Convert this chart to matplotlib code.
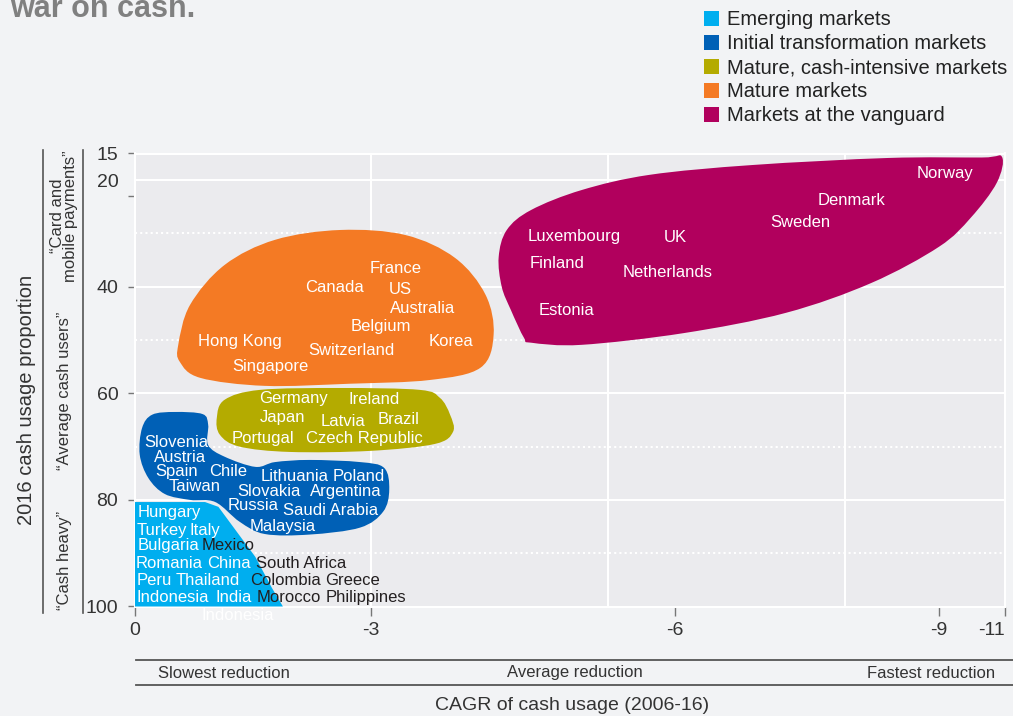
import numpy as np
import matplotlib
matplotlib.use("Agg")
import matplotlib.pyplot as plt
from matplotlib.path import Path
from matplotlib.patches import PathPatch, Rectangle
from matplotlib.lines import Line2D
from matplotlib.ticker import FixedLocator

plt.rcParams['font.family'] = ['Liberation Sans', 'DejaVu Sans']

# ---------------- data ----------------
categories = ["Emerging markets", "Initial transformation markets",
              "Mature, cash-intensive markets", "Mature markets",
              "Markets at the vanguard"]
colors = ["#00aeef", "#0060b6", "#b4ab00", "#f47a24", "#b1005d"]

x_ticks = [0, -3, -6, -9, -11]
x_tick_labels = ["0", "-3", "-6", "-9", "-11"]
y_ticks = [15, 20, 40, 60, 80, 100]
y_tick_labels = ["15", "20", "40", "60", "80", "100"]

# blob outlines (CAGR %, 2016 cash usage %)
emerging_x = [0, -0.89, -1.06, -1.23, -1.53, -1.74, -1.88, 0]
emerging_y = [80.4, 80.4, 81.3, 84.7, 90.7, 96.5, 100, 100]

initial_x = [-0.22, -0.51, -0.86, -0.93, -0.93, -1.14, -1.53, -1.78, -2.22, -2.86,
             -3.13, -3.18, -3.12, -2.86, -2.22, -1.65, -1.33, -1.02, -0.70, -0.38,
             -0.17, -0.06, -0.09]
initial_y = [64.0, 63.5, 63.9, 65.9, 69.7, 71.9, 73.8, 72.9, 72.5, 72.9,
             74.0, 78.1, 82.2, 85.2, 86.5, 86.4, 84.1, 80.4, 80.0, 78.9,
             75.9, 71.5, 66.5]

cashint_x = [-1.04, -1.14, -1.59, -2.61, -3.48, -3.68, -3.78, -3.81, -3.63, -2.99,
             -1.97, -1.33, -1.08]
cashint_y = [64.6, 61.2, 59.35, 59.0, 59.35, 60.85, 64.0, 67.2, 69.5, 70.8,
             71.0, 70.0, 67.8]

mature_x = [-0.55, -0.70, -1.14, -1.78, -2.61, -3.34, -3.83, -4.13, -4.21, -4.08,
            -3.58, -2.73, -1.65, -0.83, -0.57]
mature_y = [50.9, 43.4, 35.9, 31.2, 29.35, 30.3, 34.6, 41.5, 49.0, 55.2,
            57.5, 58.2, 58.6, 57.1, 54.1]

vanguard_x = [-10.91, -10.3, -8.42, -6.88, -5.75, -5.08, -4.58, -4.34, -4.26, -4.29, -4.38,
              -4.51, -4.58, -5.08, -6.10, -7.26, -8.23, -9.0, -9.97, -10.75]
vanguard_y = [15.66, 15.75, 15.84, 17.16, 19.0, 21.85, 25.6, 29.35, 34.4, 40.0, 44.35,
              49.6, 50.5, 50.9, 48.7, 44.9, 39.3, 32.5, 27.0, 20.5]

# country labels
emerging_names = ["Hungary", "Turkey", "Italy", "Bulgaria", "Mexico", "Romania", "China",
                  "South Africa", "Peru", "Thailand", "Colombia", "Greece", "Indonesia",
                  "India", "Morocco", "Philippines", "Indonesia"]
emerging_lx = [-0.43, -0.34, -0.89, -0.42, -1.18, -0.44, -1.19, -2.11, -0.24, -0.92,
               -1.91, -2.76, -0.48, -1.25, -1.96, -2.94, -1.30]
emerging_ly = [82.4, 85.8, 85.8, 88.6, 88.6, 92.0, 92.0, 92.0, 95.2, 95.2,
               95.2, 95.2, 98.4, 98.4, 98.4, 98.4, 101.6]
outside_blob = ["Mexico", "South Africa", "Colombia", "Greece", "Morocco", "Philippines"]

initial_names = ["Slovenia", "Austria", "Spain", "Chile", "Lithuania", "Poland", "Taiwan",
                 "Slovakia", "Argentina", "Russia", "Saudi Arabia", "Malaysia"]
initial_lx = [-0.52, -0.57, -0.53, -1.19, -2.03, -2.85, -0.76, -1.70, -2.68, -1.50, -2.49, -1.88]
initial_ly = [69.3, 72.1, 74.7, 74.7, 75.7, 75.7, 77.5, 78.5, 78.5, 81.1, 81.9, 85.0]

cashint_names = ["Germany", "Ireland", "Japan", "Latvia", "Brazil", "Portugal", "Czech Republic"]
cashint_lx = [-2.01, -3.03, -1.87, -2.64, -3.27, -1.63, -2.92]
cashint_ly = [60.9, 61.2, 64.6, 65.2, 65.0, 68.4, 68.4]

mature_names = ["France", "Canada", "US", "Australia", "Belgium", "Korea", "Hong Kong",
                "Switzerland", "Singapore"]
mature_lx = [-3.24, -2.54, -3.29, -3.51, -3.10, -3.79, -1.33, -2.75, -1.72]
mature_ly = [36.5, 40.2, 40.6, 44.0, 47.5, 50.2, 50.2, 51.9, 55.0]

vanguard_names = ["Norway", "Denmark", "Sweden", "Luxembourg", "UK", "Finland",
                  "Netherlands", "Estonia"]
vanguard_lx = [-9.18, -8.0, -7.42, -5.01, -6.0, -4.84, -5.93, -4.93]
vanguard_ly = [18.7, 23.9, 28.0, 30.5, 30.7, 35.7, 37.4, 44.5]

# ---------------- scale (non-linear CAGR axis) ----------------
CAGR_KNOTS = np.array([-60.0, 0, 3, 6, 9, 11, 60])
AXIS_KNOTS = np.array([-60 * 78.7, 0, 236, 540, 804, 870, 870 + 49 * 33])


def fwd(x):
    return -np.interp(-np.asarray(x, float), CAGR_KNOTS, AXIS_KNOTS)


def inv(u):
    return -np.interp(-np.asarray(u, float), AXIS_KNOTS, CAGR_KNOTS)


def smooth_closed(xs, ys, t=1 / 6):
    P = np.column_stack([xs, ys]).astype(float)
    n = len(P)
    verts = [P[0]]
    codes = [Path.MOVETO]
    for i in range(n):
        p0, p1, p2, p3 = P[i - 1], P[i], P[(i + 1) % n], P[(i + 2) % n]
        verts += [p1 + (p2 - p0) * t, p2 - (p3 - p1) * t, p2]
        codes += [Path.CURVE4] * 3
    verts.append(P[0])
    codes.append(Path.CLOSEPOLY)
    return Path(verts, codes)


FIG_BG = "#f2f3f5"
AX_BG = "#ebebee"
W, H = 1013, 716

fig = plt.figure(figsize=(W / 100, H / 100), dpi=100, facecolor=FIG_BG)
ax = fig.add_axes([135 / W, (H - 606.5) / H, 870 / W, 453 / H])
ax.set_facecolor(AX_BG)
ax.set_xscale('function', functions=(fwd, inv))
ax.set_xlim(0, -11)
ax.set_ylim(100, 15)

# grid
for gx in [-3, -5.34, -7.93]:
    ax.axvline(gx, color="white", lw=1.5, zorder=0.5)
for gy in [20, 40, 60, 80]:
    ax.axhline(gy, color="white", lw=1.5, zorder=0.5)
for gy in [30, 50, 70, 90]:
    ax.axhline(gy, color="white", lw=1.5, ls=(0, (1, 1.5)), zorder=0.5)
for s in ax.spines.values():
    s.set_color("white")
    s.set_linewidth(1.5)


def blob(xs, ys, color, z):
    # map the outline through the axis scale, then smooth it in scaled space
    pts = ax.transScale.transform(np.column_stack([xs, ys]))
    path = smooth_closed(pts[:, 0], pts[:, 1])
    ax.add_patch(PathPatch(path, fc=color, ec="none", zorder=z,
                           transform=ax.transLimits + ax.transAxes))


blob(mature_x, mature_y, colors[3], 2)
blob(cashint_x, cashint_y, colors[2], 2)
blob(initial_x, initial_y, colors[1], 2)
blob(vanguard_x, vanguard_y, colors[4], 2)
ax.fill(emerging_x, emerging_y, color=colors[0], ec="none", zorder=3)

LBL = 12
for names, lx, ly in [(mature_names, mature_lx, mature_ly),
                      (cashint_names, cashint_lx, cashint_ly),
                      (initial_names, initial_lx, initial_ly),
                      (vanguard_names, vanguard_lx, vanguard_ly)]:
    for n, x, y in zip(names, lx, ly):
        ax.text(x, y, n, color="white", fontsize=LBL, ha="center", va="center", zorder=5)
for n, x, y in zip(emerging_names, emerging_lx, emerging_ly):
    c = "#231f20" if n in outside_blob else "white"
    ax.text(x, y, n, color=c, fontsize=LBL, ha="center", va="center", zorder=5,
            clip_on=False)

# ticks
ax.set_xticks(x_ticks)
ax.set_xticklabels(x_tick_labels)
ax.tick_params(axis="x", which="major", length=6.5, width=1, color="#777777",
               pad=5, labelsize=14, labelcolor="#333333")
ax.get_xticklabels()[-1].set_horizontalalignment("right")
ax.set_yticks(y_ticks)
ax.set_yticklabels(y_tick_labels)
ax.tick_params(axis="y", which="major", length=0, pad=12, labelsize=14, labelcolor="#333333")
ax.yaxis.remove_overlapping_locs = False
ax.yaxis.set_minor_locator(FixedLocator([15, 23, 40, 60, 80, 100]))
ax.tick_params(axis="y", which="minor", length=5, width=1, color="#777777")
ax.xaxis.set_minor_locator(FixedLocator([]))


def fx(px):
    return px / W


def fy(py):
    return 1 - py / H


# left annotations
fig.text(fx(26), fy(400), "2016 cash usage proportion", rotation=90, ha="center",
         va="center", fontsize=14.5, color="#333333")
for lx in [43, 82.5]:
    fig.add_artist(Line2D([fx(lx), fx(lx)], [fy(150), fy(613)], color="#555555", lw=1.2))
fig.text(fx(64), fy(216), "\u201cCard and\nmobile payments\u201d", rotation=90, ha="center",
         va="center", fontsize=12, color="#333333", linespacing=0.85,
         multialignment="center")
fig.text(fx(65), fy(391), "\u201cAverage cash users\u201d", rotation=90, ha="center",
         va="center", fontsize=12, color="#333333")
fig.text(fx(65), fy(560), "\u201cCash heavy\u201d", rotation=90, ha="center",
         va="center", fontsize=12, color="#333333")

# bottom annotations
for ly in [660, 685]:
    fig.add_artist(Line2D([fx(136), fx(1013)], [fy(ly), fy(ly)], color="#555555", lw=1.3))
fig.text(fx(224), fy(673), "Slowest reduction", ha="center", va="center", fontsize=12, color="#333333")
fig.text(fx(574.5), fy(673), "Average reduction", ha="center", va="center", fontsize=12, color="#333333")
fig.text(fx(931.5), fy(673), "Fastest reduction", ha="center", va="center", fontsize=12, color="#333333")
fig.text(fx(572), fy(705), "CAGR of cash usage (2006-16)", ha="center", va="center",
         fontsize=14, color="#333333")

# title fragment
fig.text(fx(10), fy(17), "war on cash.", ha="left", va="baseline", fontsize=22,
         fontweight="bold", color="#808080")

# legend
for i, (name, c) in enumerate(zip(categories, colors)):
    cy = 18 + 24 * i
    fig.add_artist(Rectangle((fx(704), fy(cy + 7.5)), 15 / W, 15 / H, transform=fig.transFigure,
                             fc=c, ec="none"))
    fig.text(fx(727), fy(cy + 1.5), name, ha="left", va="center", fontsize=14.5, color="#222222")

fig.savefig("out.png", dpi=100, facecolor=FIG_BG)
